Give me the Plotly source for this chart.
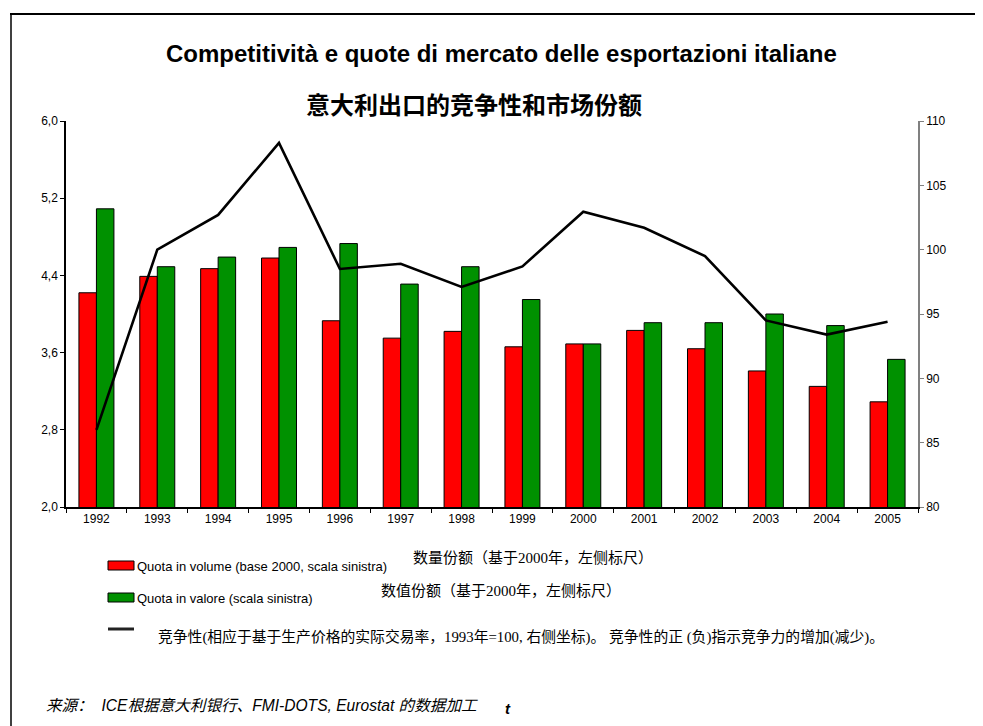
import plotly.graph_objects as go

years = ["1992", "1993", "1994", "1995", "1996", "1997", "1998", "1999",
         "2000", "2001", "2002", "2003", "2004", "2005"]
quota_volume = [4.22, 4.39, 4.47, 4.58, 3.93, 3.75, 3.82, 3.66,
                3.69, 3.83, 3.64, 3.41, 3.25, 3.09]
quota_valore = [5.09, 4.49, 4.59, 4.69, 4.73, 4.31, 4.49, 4.15,
                3.69, 3.91, 3.91, 4.00, 3.88, 3.53]
competitivita = [86.0, 100.0, 102.7, 108.3, 98.5, 98.9, 97.1, 98.7,
                 102.95, 101.7, 99.5, 94.5, 93.4, 94.4]
left_ticks = [2.0, 2.8, 3.6, 4.4, 5.2, 6.0]
right_ticks = [80, 85, 90, 95, 100, 105, 110]

# page body has an 8px margin: work in reference-pixel coordinates, then shift
OFF = 8
W, H = 983 - OFF, 726 - OFF
L, R, T, B = 66 - OFF, 918 - OFF, 121 - OFF, 507 - OFF

def px(x):
    return (x - OFF - L) / (R - L)

def py(y):
    return (B - (y - OFF)) / (B - T)

SANS = "Liberation Sans, Arial, Noto Sans CJK SC"
SERIF_CJK = "Liberation Serif, Noto Sans CJK SC"

fig = go.Figure()
fig.add_trace(go.Bar(x=years, y=quota_volume, name="Quota in volume",
                     marker=dict(color="#ff0000", line=dict(color="black", width=1))))
fig.add_trace(go.Bar(x=years, y=quota_valore, name="Quota in valore",
                     marker=dict(color="#009100", line=dict(color="black", width=1))))
fig.add_trace(go.Scatter(x=years, y=competitivita, yaxis="y2", mode="lines",
                         line=dict(color="black", width=2.6), name="Competitività"))

shapes = [
    dict(type="line", xref="paper", yref="paper", x0=px(10), x1=px(983), y0=py(14), y1=py(14),
         line=dict(color="black", width=2)),
    dict(type="line", xref="paper", yref="paper", x0=px(11), x1=px(11), y0=py(14), y1=py(726),
         line=dict(color="black", width=1.5)),
    dict(type="rect", xref="paper", yref="paper", x0=px(108), x1=px(134), y0=py(561), y1=py(570),
         fillcolor="#ff0000", line=dict(color="black", width=1)),
    dict(type="rect", xref="paper", yref="paper", x0=px(108), x1=px(134), y0=py(593), y1=py(602),
         fillcolor="#009100", line=dict(color="black", width=1)),
    dict(type="line", xref="paper", yref="paper", x0=px(108), x1=px(134), y0=py(629), y1=py(629),
         line=dict(color="#222222", width=3)),
]

def ann(text, x, y, size, family, xanchor="left", color="black"):
    return dict(text=text, x=px(x), y=py(y), xref="paper", yref="paper",
                xanchor=xanchor, yanchor="middle", showarrow=False,
                font=dict(size=size, family=family, color=color))

annotations = [
    ann("<b>Competitività e quote di mercato delle esportazioni italiane</b>", 502, 53, 24, SANS, "center"),
    ann("<b>意大利出口的竞争性和市场份额</b>", 474, 103, 24, "Noto Sans CJK SC", "center"),
    ann("Quota in volume (base 2000, scala sinistra)", 135, 566, 13, SANS),
    ann("数量份额（基于2000年，左侧标尺）", 411, 558, 15, SERIF_CJK),
    ann("Quota in valore (scala sinistra)", 135, 598, 13, SANS),
    ann("数值份额（基于2000年，左侧标尺）", 379, 591, 15, SERIF_CJK),
    ann("竞争性(相应于基于生产价格的实际交易率，1993年=100, 右侧坐标)。 竞争性的正 (负)指示竞争力的增加(减少)。",
        156, 637, 14.8, SERIF_CJK),
    ann("<i>来源：  ICE根据意大利银行、FMI-DOTS, Eurostat 的数据加工</i>", 44, 705, 15.6, SANS),
    ann("<i><b>t</b></i>", 503, 708, 15, SANS),
]

fig.update_layout(
    width=W, height=H,
    margin=dict(l=L, r=W - R, t=T, b=H - B),
    paper_bgcolor="white", plot_bgcolor="white",
    barmode="group", bargap=0.425, bargroupgap=0,
    showlegend=False,
    separators=",.",
    font=dict(family=SANS, size=12, color="black"),
    xaxis=dict(type="category", showline=True, linecolor="black", linewidth=1.5,
               ticks="outside", tickson="boundaries", ticklen=4, tickcolor="black",
               tickfont=dict(size=12, family=SANS), showgrid=False, mirror=False),
    yaxis=dict(range=[2.0, 6.0], tickvals=left_ticks, tickformat=".1f",
               showline=True, linecolor="black", linewidth=1.5,
               ticks="outside", ticklen=4, tickcolor="black",
               tickfont=dict(size=12, family=SANS), showgrid=False, zeroline=False),
    yaxis2=dict(range=[80, 110], tickvals=right_ticks, overlaying="y", side="right",
                showline=True, linecolor="#808080", linewidth=1.5,
                ticks="outside", ticklen=4, tickcolor="#808080",
                tickfont=dict(size=12, family=SANS), showgrid=False, zeroline=False),
    shapes=shapes,
    annotations=annotations,
)

fig.write_html("out.html")
